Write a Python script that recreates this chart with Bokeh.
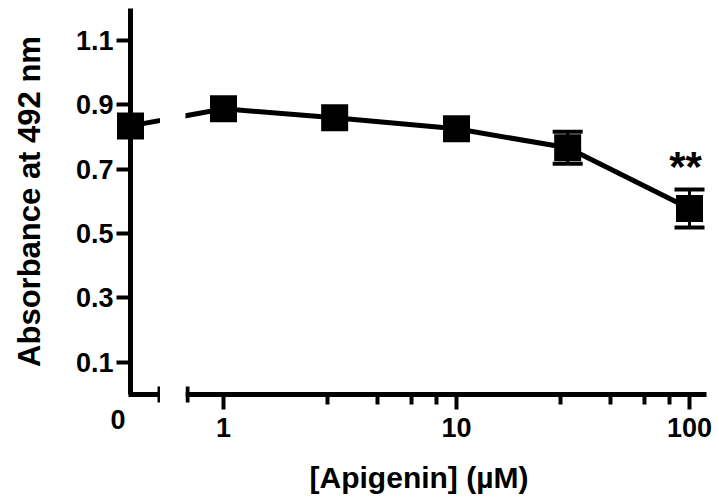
from bokeh.plotting import figure
from bokeh.layouts import row
from bokeh.models import (Range1d, LinearAxis, FixedTicker, Label, Whisker, TeeHead,
                          ColumnDataSource, CustomJSTickFormatter, Grid)
from bokeh.core.properties import value
from bokeh.embed import file_html
from bokeh.resources import INLINE

# ---------------- data ----------------
concentrations = [0, 1, 3, 10, 30, 100]          # µM apigenin (0 = control)
absorbance = [0.835, 0.888, 0.860, 0.826, 0.767, 0.578]
sem = [0.012, 0.010, 0.010, 0.012, 0.050, 0.059]
significance = ["", "", "", "", "", "**"]
y_ticks = [0.1, 0.3, 0.5, 0.7, 0.9, 1.1]
x_major_ticks = [1, 10, 100]
x_minor_ticks = [2.8, 4.6, 6.4, 8.2, 28, 46, 64, 82]
zero_tick_label = "0"
x_title = "[Apigenin] (µM)"
y_title = "Absorbance at 492 nm"

# ---------------- layout (pixels) ----------------
W, H = 716, 500
DECADE = 233.0          # px per decade on the log axis
PX_ONE = 223.0          # x of 1 µM
LEFT_W = 160            # segment holding the control (0 µM)
GAP = 25                # axis break
ORIGIN_PX = 130         # y axis / control position
Y0_PX = 394             # y of absorbance 0
PX_PER_UNIT = 321.67
Y_MAX = 1.2
FONT = "Liberation Sans"
AXW = 5
TICK_FS = "27px"


def val(px):
    return 10 ** ((px - PX_ONE) / DECADE)


CONTROL_POS = val(ORIGIN_PX)
x_plot = [CONTROL_POS if c == 0 else c for c in concentrations]

src = ColumnDataSource(dict(x=x_plot, y=absorbance))

half_symbol = 13.5 / PX_PER_UNIT
err_idx = [i for i, s in enumerate(sem) if s > half_symbol]
err_src = ColumnDataSource(dict(x=[x_plot[i] for i in err_idx],
                                upper=[absorbance[i] + sem[i] for i in err_idx],
                                lower=[absorbance[i] - sem[i] for i in err_idx]))
sig_idx = [i for i, s in enumerate(significance) if s]
sig_src = ColumnDataSource(dict(x=[x_plot[i] for i in sig_idx],
                                y=[absorbance[i] + sem[i] for i in sig_idx],
                                t=[significance[i] for i in sig_idx]))

yr = Range1d(-(H - Y0_PX) / PX_PER_UNIT, Y0_PX / PX_PER_UNIT)


def make_fig(x0, width):
    p = figure(width=width, height=H,
               x_range=Range1d(val(x0), val(x0 + width)), y_range=yr,
               x_axis_type="log", x_axis_location=None, y_axis_location=None,
               output_backend="svg", toolbar_location=None,
               min_border_left=0, min_border_right=0, min_border_top=0, min_border_bottom=0)
    p.outline_line_color = None
    p.background_fill_color = "white"
    p.border_fill_color = "white"
    for r in list(p.center):
        if isinstance(r, Grid):
            r.visible = False
    return p


def style_x(ax):
    ax.axis_line_width = AXW
    ax.axis_line_color = "black"
    ax.major_tick_line_width = 4
    ax.minor_tick_line_width = 4
    ax.major_tick_line_color = "black"
    ax.minor_tick_line_color = "black"
    ax.major_label_text_font = FONT
    ax.major_label_text_font_style = "bold"
    ax.major_label_text_font_size = TICK_FS
    ax.major_label_text_color = "black"


left = make_fig(0, LEFT_W)
right = make_fig(LEFT_W + GAP, W - LEFT_W - GAP)

# ---- y axis (drawn at the control position)
yax = LinearAxis(fixed_location=CONTROL_POS, bounds=(0, Y_MAX),
                 ticker=FixedTicker(ticks=y_ticks, minor_ticks=[]),
                 axis_label=y_title)
yax.axis_line_width = AXW
yax.major_tick_line_width = 4
yax.major_tick_in = 0
yax.major_tick_out = 14
yax.minor_tick_line_color = None
yax.major_label_text_font = FONT
yax.major_label_text_font_style = "bold"
yax.major_label_text_font_size = TICK_FS
yax.major_label_text_color = "black"
yax.major_label_standoff = 3
yax.axis_label_text_font = FONT
yax.axis_label_text_font_style = "bold"
yax.axis_label_text_font_size = "31px"
yax.axis_label_text_color = "black"
yax.axis_label_standoff = 26
left.add_layout(yax, "left")

# ---- x axis, control segment (ends with a break tick)
xl = LinearAxis(fixed_location=0, bounds=(val(ORIGIN_PX - AXW / 2), val(LEFT_W)),
                ticker=FixedTicker(ticks=[val(158.7)], minor_ticks=[]),
                formatter=CustomJSTickFormatter(code="return ''"))
style_x(xl)
xl.major_tick_in = 8
xl.major_tick_out = 8
left.add_layout(xl, "below")

left.add_layout(Label(x=val(117.5), y=0, text=zero_tick_label, text_align="center",
                      text_baseline="alphabetic", y_offset=-25,
                      text_font=FONT, text_font_style="bold", text_font_size=TICK_FS,
                      text_color="black"))

# ---- x axis, log segment
xr = LinearAxis(fixed_location=0, bounds=(val(LEFT_W + GAP), val(706)),
                ticker=FixedTicker(ticks=x_major_ticks, minor_ticks=x_minor_ticks))
style_x(xr)
xr.major_tick_in = 0
xr.major_tick_out = 15
xr.minor_tick_in = 0
xr.minor_tick_out = 10
xr.major_label_standoff = 8
right.add_layout(xr, "below")

xb = LinearAxis(fixed_location=0, bounds=(val(LEFT_W + GAP), val(190)),
                ticker=FixedTicker(ticks=[val(187.3)], minor_ticks=[]),
                formatter=CustomJSTickFormatter(code="return ''"))
style_x(xb)
xb.axis_line_color = None
xb.major_tick_in = 8
xb.major_tick_out = 8
right.add_layout(xb, "below")

right.add_layout(Label(x=val(418.5), y=0, text=x_title, text_align="center",
                       text_baseline="alphabetic", y_offset=-83,
                       text_font=FONT, text_font_style="bold", text_font_size="30px",
                       text_color="black"))

# ---- data marks (each segment clips the connecting line at the axis break)
for p in (left, right):
    p.line("x", "y", source=src, line_width=5, line_color="black")

right.add_layout(Whisker(base="x", upper="upper", lower="lower", source=err_src,
                         line_width=3, line_color="black",
                         upper_head=TeeHead(size=30, line_width=4, line_color="black"),
                         lower_head=TeeHead(size=30, line_width=4, line_color="black")))

for p in (left, right):
    p.scatter("x", "y", source=src, marker="square", size=27,
              fill_color="black", line_color=None)

right.text("x", "y", text="t", source=sig_src, text_align="center",
           text_baseline="alphabetic", y_offset=-23, x_offset=-4,
           text_font=value(FONT), text_font_style="bold", text_font_size="42px",
           text_color="black")

layout = row(left, right, spacing=GAP)
open("out.html", "w").write(file_html(layout, INLINE))
